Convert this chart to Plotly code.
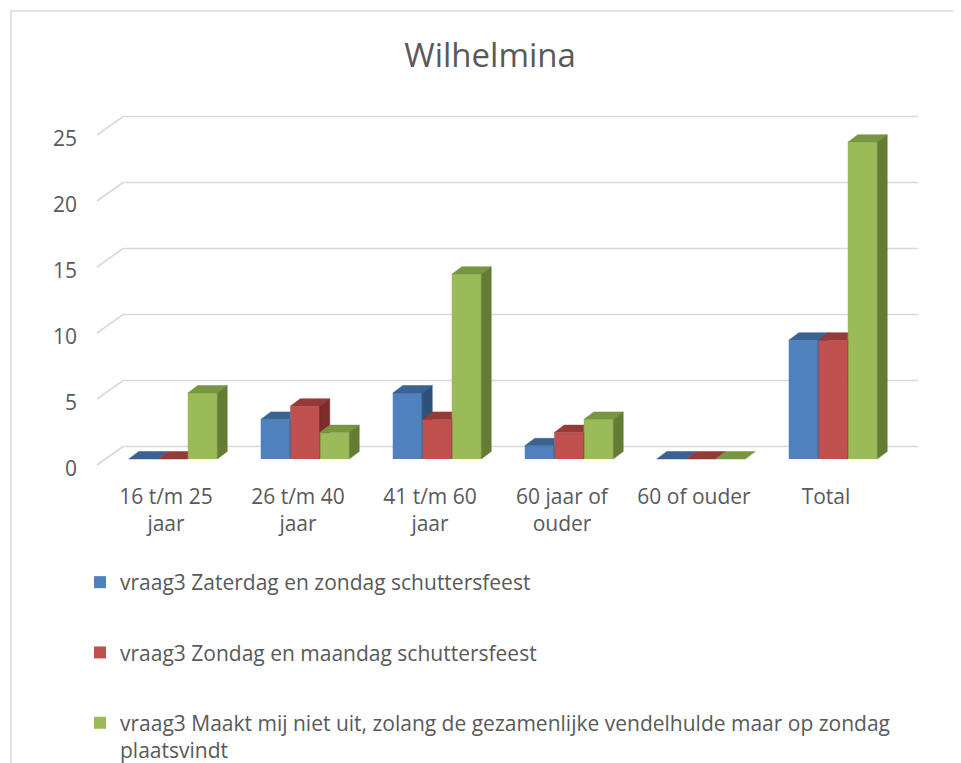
import plotly.graph_objects as go

# ---------------- data ----------------
categories = ["16 t/m 25 jaar", "26 t/m 40 jaar", "41 t/m 60 jaar",
              "60 jaar of ouder", "60 of ouder", "Total"]
category_tick_labels = ["16 t/m 25<br>jaar", "26 t/m 40<br>jaar", "41 t/m 60<br>jaar",
                        "60 jaar of<br>ouder", "60 of ouder", "Total"]
series_names = [
    "vraag3 Zaterdag en zondag schuttersfeest",
    "vraag3 Zondag en maandag schuttersfeest",
    "vraag3 Maakt mij niet uit, zolang de gezamenlijke vendelhulde maar op zondag<br>plaatsvindt",
]
zaterdag_zondag = [0, 3, 5, 1, 0, 9]
zondag_maandag = [0, 4, 3, 2, 0, 9]
maakt_niet_uit = [5, 2, 14, 3, 0, 24]
y_ticks = [0, 5, 10, 15, 20, 25]

series_values = [zaterdag_zondag, zondag_maandag, maakt_niet_uit]

# ---------------- style ----------------
front_colors = ["#4F81BD", "#C0504D", "#9BBB59"]
top_colors = ["#3A6394", "#953A38", "#789540"]
side_colors = ["#2E5079", "#7A2D2B", "#657C34"]
TEXT = "#595959"
GRID = "#D9D9D9"
FONT = "Open Sans"

PAGE_OFF = 8          # browser body margin
W, H = 961 - PAGE_OFF, 763 - PAGE_OFF
# all geometry below is given in page pixels, converted to figure pixels
PLOT_L, PLOT_R, PLOT_T, PLOT_B = 90 - PAGE_OFF, 925 - PAGE_OFF, 100 - PAGE_OFF, 472 - PAGE_OFF
CAT_PX = 132.0      # pixels per category
CAT0_PX = 173.0     # page pixel x of first category centre
VAL_PX = 13.2       # pixels per unit value
BASE_PX = 459.0     # page pixel y of value 0 (front face)


def xd(page_px):
    return (page_px - CAT0_PX) / CAT_PX


def vd(dpx):
    return dpx / VAL_PX


BAR_W = 29.5 / CAT_PX
DX = 10.0 / CAT_PX
DY = vd(7.5)
FLOOR_FRONT = vd(6.0)
FLOOR_BACK = vd(12.5)
YLABEL_SHIFT = vd(9.5)
LABEL_SHIFT = 7.0 / CAT_PX


def clip(poly, fn_inside, fn_cross):
    out = []
    n = len(poly)
    for i in range(n):
        cur = poly[i]
        prev = poly[i - 1]
        ci, pi = fn_inside(cur), fn_inside(prev)
        if ci:
            if not pi:
                out.append(fn_cross(prev, cur))
            out.append(cur)
        elif pi:
            out.append(fn_cross(prev, cur))
    return out


def clip_x(poly, xc, keep_left):
    def inside(p):
        return p[0] <= xc if keep_left else p[0] >= xc

    def cross(p, q):
        t = (xc - p[0]) / (q[0] - p[0])
        return (xc, p[1] + t * (q[1] - p[1]))
    return clip(poly, inside, cross)


def clip_y_above(poly, yc):
    def inside(p):
        return p[1] >= yc

    def cross(p, q):
        t = (yc - p[1]) / (q[1] - p[1])
        return (p[0] + t * (q[0] - p[0]), yc)
    return clip(poly, inside, cross)


def visible_parts(poly, b, v_next):
    """Remove the part of poly hidden behind the next bar's front face."""
    if v_next is None:
        return [poly]
    parts = []
    left = clip_x(poly, b, True)
    if len(left) >= 3:
        parts.append(left)
    right = clip_y_above(clip_x(poly, b, False), v_next)
    if len(right) >= 3:
        parts.append(right)
    return parts


def add_polys(xs, ys, polys):
    for p in polys:
        for (px, py) in p:
            xs.append(px)
            ys.append(py)
        xs.append(p[0][0])
        ys.append(p[0][1])
        xs.append(None)
        ys.append(None)


fig = go.Figure()

n_series = len(series_values)
cat_idx = list(range(len(categories)))

# front faces as real bars
for k, vals in enumerate(series_values):
    off = -n_series * BAR_W / 2 + k * BAR_W
    fig.add_trace(go.Bar(
        x=cat_idx, y=vals, name=series_names[k], legendgroup=str(k),
        width=BAR_W, offset=off,
        marker=dict(color=front_colors[k], line=dict(width=0)),
        hovertext=categories, hoverinfo="text+y",
    ))

# top and side faces
for k, vals in enumerate(series_values):
    off = -n_series * BAR_W / 2 + k * BAR_W
    tx, ty, sx, sy = [], [], [], []
    for i, v in enumerate(vals):
        a = i + off
        b = a + BAR_W
        v_next = series_values[k + 1][i] if k + 1 < n_series else None
        top = [(a, v), (b, v), (b + DX, v + DY), (a + DX, v + DY)]
        add_polys(tx, ty, visible_parts(top, b, v_next))
        if v > 0:
            side = [(b, 0), (b, v), (b + DX, v + DY), (b + DX, DY)]
            add_polys(sx, sy, visible_parts(side, b, v_next))
    fig.add_trace(go.Scatter(
        x=tx, y=ty, mode="lines", fill="toself", fillcolor=top_colors[k],
        line=dict(color=top_colors[k], width=0.5), showlegend=False,
        hoverinfo="skip", legendgroup=str(k)))
    fig.add_trace(go.Scatter(
        x=sx, y=sy, mode="lines", fill="toself", fillcolor=side_colors[k],
        line=dict(color=side_colors[k], width=0.5), showlegend=False,
        hoverinfo="skip", legendgroup=str(k)))

# back-wall gridlines with the diagonal floor/wall edge
shapes = []
for t in y_ticks:
    path = "M {:.5f},{:.5f} L {:.5f},{:.5f} L {:.5f},{:.5f}".format(
        xd(97), t - FLOOR_FRONT, xd(123), t + FLOOR_BACK, xd(918), t + FLOOR_BACK)
    shapes.append(dict(type="path", path=path, xref="x", yref="y", layer="below",
                       line=dict(color=GRID, width=1.6)))

# chart border (left and top visible)
pw = PLOT_R - PLOT_L
ph = PLOT_B - PLOT_T
bx0 = 11 - PAGE_OFF
by0 = 11 - PAGE_OFF
shapes.append(dict(type="rect", xref="paper", yref="paper",
                   x0=(bx0 - PLOT_L) / pw, x1=(W + 20 - PLOT_L) / pw,
                   y0=(PLOT_B - by0) / ph, y1=(PLOT_B - (H + 20)) / ph,
                   line=dict(color=GRID, width=1.5), fillcolor="rgba(0,0,0,0)",
                   layer="below"))

fig.update_layout(
    width=W, height=H,
    margin=dict(l=PLOT_L, r=W - PLOT_R, t=PLOT_T, b=H - PLOT_B, autoexpand=False),
    paper_bgcolor="white", plot_bgcolor="white",
    barmode="overlay",
    font=dict(family=FONT, color=TEXT),
    title=dict(text="Wilhelmina", x=(490 - PAGE_OFF) / W, xanchor="center",
               y=1 - (55 - PAGE_OFF) / H, yanchor="middle",
               font=dict(family=FONT, size=33, color=TEXT)),
    xaxis=dict(range=[xd(PLOT_L + PAGE_OFF), xd(PLOT_R + PAGE_OFF)], showgrid=False,
               zeroline=False, showline=False, tickmode="array",
               tickvals=[i - LABEL_SHIFT for i in cat_idx],
               ticktext=category_tick_labels, ticks="", ticklabelstandoff=10,
               tickfont=dict(family=FONT, size=21, color=TEXT), fixedrange=True),
    yaxis=dict(range=[(BASE_PX - (PLOT_B + PAGE_OFF)) / VAL_PX,
                      (BASE_PX - (PLOT_T + PAGE_OFF)) / VAL_PX],
               showgrid=False, zeroline=False, showline=False, tickmode="array",
               tickvals=[t - YLABEL_SHIFT for t in y_ticks],
               ticktext=[str(t) for t in y_ticks], ticks="", ticklabelstandoff=12,
               tickfont=dict(family=FONT, size=21, color=TEXT), fixedrange=True),
    shapes=shapes,
    showlegend=True,
    legend=dict(xref="container", yref="container", x=(80 - PAGE_OFF) / W,
                y=1 - (562 - PAGE_OFF) / H,
                xanchor="left", yanchor="top", orientation="v",
                font=dict(family=FONT, size=21, color=TEXT),
                tracegroupgap=40, valign="top", bgcolor="rgba(0,0,0,0)",
                traceorder="grouped"),
)

fig.write_html("out.html")
